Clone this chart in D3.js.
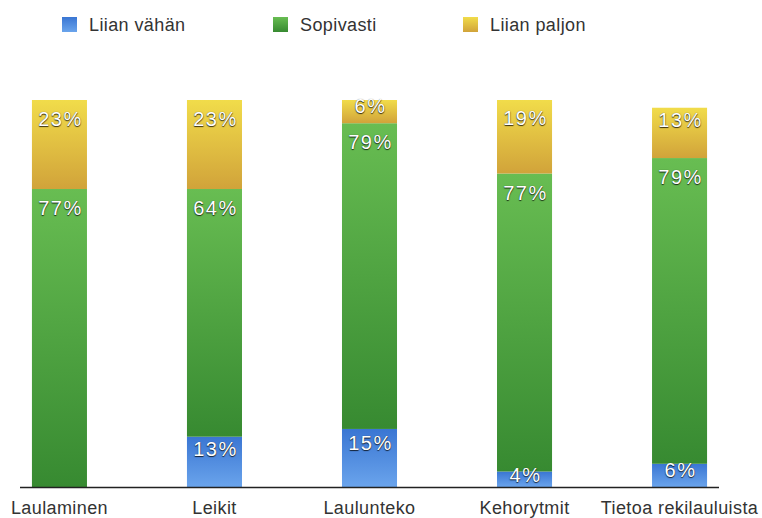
<!DOCTYPE html>
<meta charset="utf-8">
<style>
body { margin: 0; background: #fff; }
text { font-family: "Liberation Sans", Arial, Helvetica, sans-serif; }
.cat, .leg { font-size: 18px; fill: #333; letter-spacing: 0.4px; }
.val { font-size: 20px; fill: #fff; letter-spacing: 1.5px; text-anchor: middle; dominant-baseline: central;
       text-shadow: 0 1px 1px rgba(0,0,0,0.75), 0 0 1px rgba(0,0,0,0.5); }
</style>
<body>
<script src="https://cdn.jsdelivr.net/npm/d3@7"></script>
<script>

var width = 762, height = 518;

var categories = ["Laulaminen", "Leikit", "Laulunteko", "Kehorytmit", "Tietoa rekilauluista"];
var seriesNames = ["Liian vähän", "Sopivasti", "Liian paljon"];
var vahan = [0, 13, 15, 4, 6];
var sopivasti = [77, 64, 79, 77, 79];
var paljon = [23, 23, 6, 19, 13];

var gradients = [
  ["#3a76d3", "#6aa4ec"],
  ["#68bd52", "#378a31"],
  ["#f1dc4a", "#d1a33a"]
];

var svg = d3.select("body").append("svg")
    .attr("width", width)
    .attr("height", height);

var defs = svg.append("defs");
gradients.forEach(function(g, i) {
  var lg = defs.append("linearGradient")
      .attr("id", "g" + i)
      .attr("x1", 0).attr("y1", 0).attr("x2", 0).attr("y2", 1);
  lg.append("stop").attr("offset", "0%").attr("stop-color", g[0]);
  lg.append("stop").attr("offset", "100%").attr("stop-color", g[1]);
});

var x = d3.scaleBand()
    .domain(categories)
    .range([20, 719])
    .paddingInner(0.645)
    .paddingOuter(0.077);

var y = d3.scaleLinear()
    .domain([0, 100])
    .range([487, 100]);

var rows = categories.map(function(c, i) {
  return {cat: c, s0: vahan[i], s1: sopivasti[i], s2: paljon[i]};
});

var stack = d3.stack().keys(["s0", "s1", "s2"]);
var layers = stack(rows);

var g = svg.append("g").selectAll("g")
  .data(layers)
  .join("g")
    .attr("fill", function(d, i) { return "url(#g" + i + ")"; });

g.selectAll("rect")
  .data(function(d) { return d; })
  .join("rect")
    .attr("x", function(d) { return x(d.data.cat); })
    .attr("width", x.bandwidth())
    .attr("y", function(d) { return y(d[1]); })
    .attr("height", function(d) { return y(d[0]) - y(d[1]); });

// value labels near the top of each segment
layers.forEach(function(layer) {
  svg.append("g").selectAll("text")
    .data(layer.filter(function(d) { return d[1] - d[0] > 0; }))
    .join("text")
      .attr("class", "val")
      .attr("x", function(d) { return x(d.data.cat) + x.bandwidth() / 2 + 1; })
      .attr("y", function(d) {
        var h = y(d[0]) - y(d[1]);
        return y(d[1]) + Math.min(19, h * 0.25);
      })
      .text(function(d) { return (d[1] - d[0]) + "%"; });
});

// baseline
svg.append("line")
    .attr("x1", 20).attr("x2", 719)
    .attr("y1", y(0) + 0.5).attr("y2", y(0) + 0.5)
    .attr("stroke", "#222")
    .attr("stroke-width", 1.5);

// category labels
svg.append("g").selectAll("text")
  .data(categories)
  .join("text")
    .attr("class", "cat")
    .attr("x", function(d) { return x(d) + x.bandwidth() / 2; })
    .attr("y", 514)
    .attr("text-anchor", "middle")
    .text(function(d) { return d; });

// legend
var legendX = [62, 273, 463];
var legend = svg.append("g").selectAll("g")
  .data(seriesNames)
  .join("g")
    .attr("transform", function(d, i) { return "translate(" + legendX[i] + ",17)"; });

legend.append("rect")
    .attr("width", 15)
    .attr("height", 15)
    .attr("fill", function(d, i) { return "url(#g" + i + ")"; });

legend.append("text")
    .attr("class", "leg")
    .attr("x", 27)
    .attr("y", 14)
    .text(function(d) { return d; });

</script>
